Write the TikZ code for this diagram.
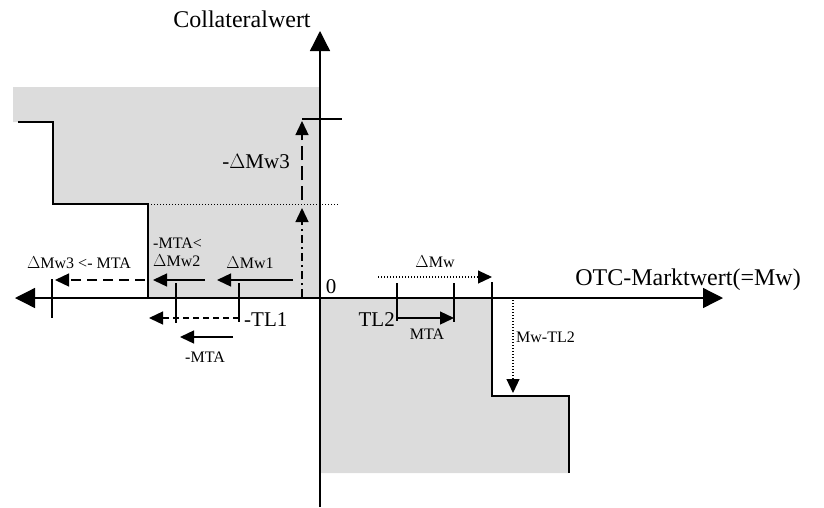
\documentclass[tikz,border=0pt]{standalone}
\usepackage{fontspec}
\setmainfont{Liberation Serif}
\usetikzlibrary{arrows.meta, positioning}

\definecolor{zone}{RGB}{220,220,220}

\begin{document}
\begin{tikzpicture}[x=1pt, y=-1pt]
\tikzstyle{axis} = [draw, line width=1.3pt, -{Triangle[length=20pt, width=20pt]}]
\tikzstyle{move} = [draw, line width=1.3pt, -{Triangle[length=14pt, width=13pt]}]
\tikzstyle{stair} = [draw, line width=2.2pt, line join=miter]
\tikzstyle{tick} = [draw, line width=1.3pt]
\tikzstyle{dots} = [line width=1.1pt, dash pattern=on 1.1pt off 1.9pt]
\tikzstyle{big} = [inner sep=0pt, font=\fontsize{24}{26}\selectfont]
\tikzstyle{mid} = [inner sep=0pt, font=\fontsize{21}{23}\selectfont]
\tikzstyle{small} = [inner sep=0pt, font=\fontsize{16}{18}\selectfont, align=left]

\useasboundingbox (0,0) rectangle (824,507);

% gray zones
\fill [zone] (13,87) -- (320,87) -- (320,298) -- (148,298) -- (148,204)
  -- (53,204) -- (53,122) -- (13,122) -- cycle;
\fill [zone] (320,298) -- (492,298) -- (492,396) -- (569,396) -- (569,473)
  -- (320,473) -- cycle;

% axes
\coordinate (xl) at (15,298);
\coordinate (xr) at (723,298);
\coordinate (yb) at (320,507);
\coordinate (yt) at (320,31);
\path [axis, {Triangle[length=20pt, width=20pt]}-{Triangle[length=20pt, width=20pt]}] (xl) -- (xr);
\path [axis] (yb) -- (yt);
\node [big, anchor=south] (ylab) at (242,28) {Collateralwert};
\node [big] (xlab) at (688,280) {OTC-Marktwert(=Mw)};
\node [mid] (zero) at (331,287) {0};

% stairs
\path [stair] (18,122) -- (53,122) -- (53,204) -- (148,204) -- (148,298);
\path [stair] (492,282) -- (492,396) -- (569,396) -- (569,473);
\draw [dots, line width=0.9pt] (148,204) -- (338,204);
\draw [tick] (302,119) -- (342,119);

% ticks on the axis
\coordinate (t3) at (52,279);
\coordinate (t2) at (176,283);
\coordinate (t1) at (239,283);
\coordinate (s1) at (397,283);
\coordinate (s2) at (454,283);
\draw [tick] (t3) -- ++(0,39);
\draw [tick] (t2) -- ++(0,40);
\draw [tick] (t1) -- ++(0,39);
\draw [tick] (s1) -- ++(0,38);
\draw [tick] (s2) -- ++(0,39);

% moves to the left
\coordinate (a3s) at (145,280);
\coordinate (a3e) at (55,280);
\coordinate (a2s) at (205,280);
\coordinate (a2e) at (153,280);
\coordinate (a1s) at (293,280);
\coordinate (a1e) at (217,280);
\path [move, dash pattern=on 10pt off 6pt] (a3s) -- (a3e);
\path [move] (a2s) -- (a2e);
\path [move] (a1s) -- (a1e);
\node [small] (lab3) at (79,263) {$\Delta$Mw3 <- MTA};
\node [small, anchor=west] (lab2) at (153,252) {-MTA<\\$\Delta$Mw2};
\node [small] (lab1) at (250,263) {$\Delta$Mw1};

% vertical moves
\coordinate (v1s) at (302,297);
\coordinate (v1e) at (302,208);
\coordinate (v2s) at (302,200);
\coordinate (v2e) at (302,121);
\path [move, dash pattern=on 8pt off 4pt on 2pt off 4pt] (v1s) -- (v1e);
\path [move, dash pattern=on 14pt off 6pt] (v2s) -- (v2e);
\node [mid, anchor=east] (labv) at (290,162) {-$\Delta$Mw3};

% threshold -TL1
\coordinate (tl1) at (239,318);
\coordinate (tl1e) at (149,318);
\path [move, dash pattern=on 6pt off 4pt] (tl1) -- (tl1e);
\node [mid, anchor=west] (labtl1) at (244,320) {-TL1};
\coordinate (m1s) at (233,337);
\coordinate (m1e) at (180,337);
\path [move] (m1s) -- (m1e);
\node [small] (labm1) at (205,357) {-MTA};

% threshold TL2
\coordinate (m2s) at (397,318);
\coordinate (m2e) at (454,318);
\path [move] (m2s) -- (m2e);
\node [mid, anchor=east] (labtl2) at (395,320) {TL2};
\node [small] (labm2) at (427,334) {MTA};

% market value moves
\coordinate (dws) at (378,277);
\coordinate (dwe) at (492,277);
\path [move, dots] (dws) -- (dwe);
\node [small] (labdw) at (435,262) {$\Delta$Mw};
\coordinate (mws) at (513,297);
\coordinate (mwe) at (513,393);
\path [move, dots] (mws) -- (mwe);
\node [small, anchor=west] (labmw) at (516,337) {Mw-TL2};
\end{tikzpicture}
\end{document}
